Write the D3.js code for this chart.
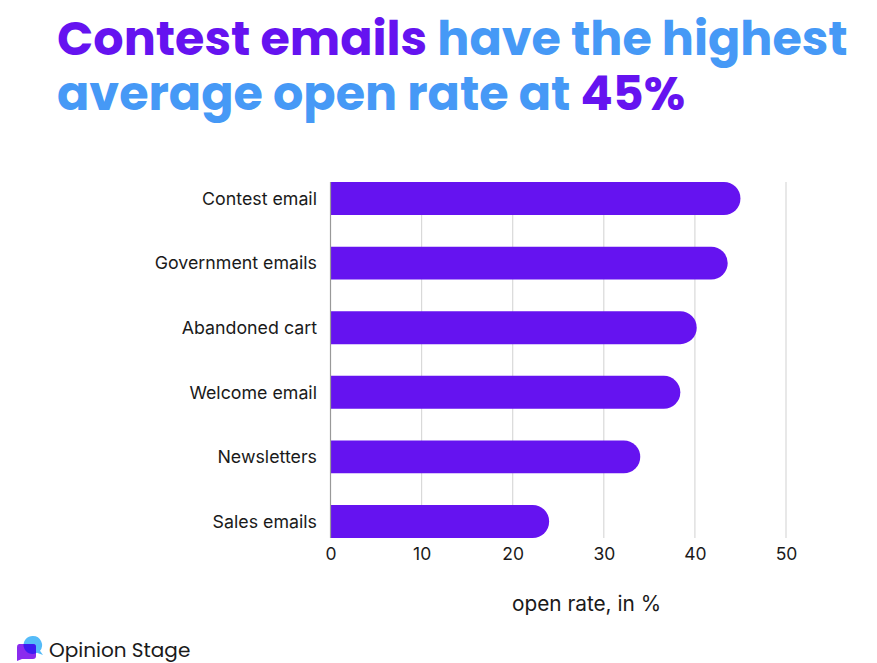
<!DOCTYPE html>
<html><head><meta charset="utf-8">
<script src="https://cdn.jsdelivr.net/npm/d3@7/dist/d3.min.js"></script>
<style>body{margin:0;background:#fff}svg{display:block}</style>
</head><body>
<svg id="c" width="877" height="663"></svg>
<script>
const categories = ["Contest email","Government emails","Abandoned cart","Welcome email","Newsletters","Sales emails"];
const values = [45.0, 43.6, 40.2, 38.4, 34.0, 24.0];
const xTicks = [0,10,20,30,40,50];
const titleLine1 = [["Contest emails ","#6513F0"],["have the highest","#4699F6"]];
const titleLine2 = [["average open rate at ","#4699F6"],["45%","#6513F0"]];
const axisTitle = "open rate, in %";
const brand = "Opinion Stage";

(function(){
const purple = "#6513F0";
const svg = d3.select("#c");
const x = d3.scaleLinear().domain([0,50]).range([330.5,786]);
const y = d3.scaleBand().domain(categories).range([166.2,553.8]).paddingInner(0.49).paddingOuter(0.245);
const yTop = y(categories[0]), yBot = y(categories[categories.length-1]) + y.bandwidth();

// title
const tf = "Poppins, 'Inter', 'Open Sans', sans-serif";
function titleLine(parts, yy, size){
  const t = svg.append("text").attr("x",57).attr("y",yy).attr("font-family",tf).attr("font-weight",700).attr("font-size",size);
  parts.forEach(p=>t.append("tspan").attr("fill",p[1]).text(p[0]));
  return t;
}
const t1 = titleLine(titleLine1, 55, 46);
const w1 = t1.node().getComputedTextLength();
const fs = 46*791/w1;
t1.attr("font-size",fs);
titleLine(titleLine2, 110, fs);

// grid
svg.append("g").selectAll("line").data(xTicks.filter(d=>d>0)).join("line")
  .attr("x1",d=>x(d)).attr("x2",d=>x(d)).attr("y1",yTop).attr("y2",yBot)
  .attr("stroke","#d9d9d9").attr("stroke-width",1.2);

// bars (rounded right end)
const h = y.bandwidth(), r = h/2;
svg.append("g").selectAll("path").data(values).join("path")
  .attr("fill",purple)
  .attr("d",(d,i)=>{
    const y0 = y(categories[i]), x0 = x(0), x1 = x(d);
    return `M${x0},${y0}H${x1-r}A${r},${r} 0 0 1 ${x1-r},${y0+h}H${x0}Z`;
  });

// y axis line
svg.append("line").attr("x1",x(0)).attr("x2",x(0)).attr("y1",yTop).attr("y2",yBot).attr("stroke","#999").attr("stroke-width",1.2);

// category labels
const lf = "Inter, 'Noto Sans', sans-serif";
svg.append("g").selectAll("text").data(categories).join("text")
  .attr("x",317).attr("y",d=>y(d)+h/2).attr("dy","0.35em").attr("text-anchor","end")
  .attr("font-family",lf).attr("font-size",17.8).attr("fill","#1a1a1a").text(d=>d);

// x ticks
const xa = svg.append("g").attr("transform",`translate(0,${yBot})`)
  .call(d3.axisBottom(x).tickValues(xTicks).tickSize(0).tickPadding(10));
xa.select(".domain").remove();
xa.selectAll("text").attr("font-family",lf).attr("font-size",17.5).attr("fill","#1a1a1a");

svg.append("text").attr("x",586.5).attr("y",611).attr("text-anchor","middle")
  .attr("font-family",lf).attr("font-size",20.8).attr("fill","#1a1a1a").text(axisTitle);

// brand logo
const blueD = "M33,636 a9,9 0 0 1 7,14.7 l3,4.3 l-6,-2.2 a9,9 0 1 1 -4,-16.8z";
const purpD = "M19,644 h14 a3,3 0 0 1 3,3 v9 a3,3 0 0 1 -3,3 h-11 l-5,2 l0,-3 v-11 a3,3 0 0 1 2,-3z";
const defs = svg.append("defs");
defs.append("clipPath").attr("id","clipBlue").append("path").attr("d",blueD);
const lg = svg.append("g");
lg.append("path").attr("d",blueD).attr("fill","#55BBF8");
lg.append("path").attr("d",purpD).attr("fill","#8A2BEE");
lg.append("path").attr("d",purpD).attr("fill","#3B1CF2").attr("clip-path","url(#clipBlue)");
svg.append("text").attr("x",49).attr("y",657).attr("font-family","Poppins, 'Inter', sans-serif").attr("font-size",20).attr("fill","#1a1a1a").text(brand);
})();
</script>
</body></html>
